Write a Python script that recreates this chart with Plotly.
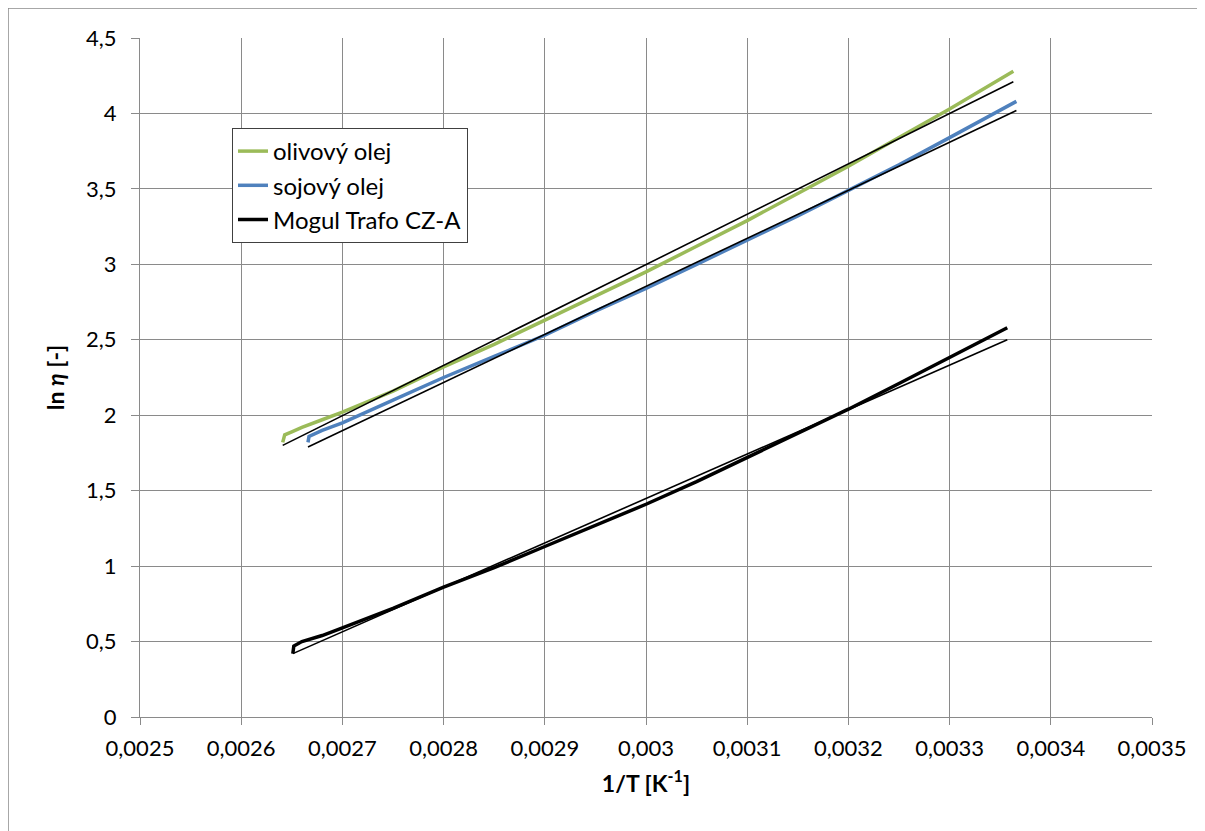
import plotly.graph_objects as go

# olive oil
olive_x = [0.002641, 0.002643, 0.002650, 0.00266, 0.00268, 0.0027, 0.00275, 0.0028, 0.00285,
           0.0029, 0.00295, 0.003, 0.00305, 0.0031, 0.00315, 0.0032, 0.00325, 0.0033, 0.003363]
olive_y = [1.82, 1.87, 1.89, 1.92, 1.97, 2.02, 2.16, 2.32, 2.47,
           2.63, 2.79, 2.95, 3.12, 3.29, 3.47, 3.65, 3.84, 4.03, 4.28]
olive_fit_x = [0.002641, 0.003363]
olive_fit_y = [1.80, 4.21]

# soybean oil
soy_x = [0.002666, 0.002667, 0.00268, 0.0027, 0.00275, 0.0028, 0.00285, 0.0029, 0.00295,
         0.003, 0.00305, 0.0031, 0.00315, 0.0032, 0.00325, 0.0033, 0.003366]
soy_y = [1.82, 1.86, 1.90, 1.95, 2.10, 2.25, 2.39, 2.53, 2.69,
         2.84, 3.00, 3.16, 3.32, 3.49, 3.66, 3.84, 4.08]
soy_fit_x = [0.002666, 0.003366]
soy_fit_y = [1.79, 4.02]

# Mogul Trafo CZ-A
mogul_x = [0.002651, 0.002652, 0.00266, 0.00268, 0.0027, 0.00275, 0.0028, 0.00285, 0.0029,
           0.00295, 0.003, 0.00305, 0.0031, 0.00315, 0.0032, 0.00325, 0.0033, 0.003357]
mogul_y = [0.42, 0.47, 0.50, 0.54, 0.59, 0.72, 0.86, 0.99, 1.13,
           1.27, 1.41, 1.56, 1.72, 1.88, 2.04, 2.21, 2.38, 2.58]
mogul_fit_x = [0.002651, 0.003357]
mogul_fit_y = [0.42, 2.50]

x_tickvals = [0.0025, 0.0026, 0.0027, 0.0028, 0.0029, 0.003, 0.0031, 0.0032, 0.0033, 0.0034, 0.0035]
x_ticktext = ["0,0025", "0,0026", "0,0027", "0,0028", "0,0029", "0,003", "0,0031", "0,0032",
              "0,0033", "0,0034", "0,0035"]
y_tickvals = [0, 0.5, 1, 1.5, 2, 2.5, 3, 3.5, 4, 4.5]
y_ticktext = ["0", "0,5", "1", "1,5", "2", "2,5", "3", "3,5", "4", "4,5"]

FONT = "Lato"
GRID = "#8a8a8a"

L, T, PW, PH = 132, 30, 1012, 679
W, H = 1205, 831

fig = go.Figure()
fig.add_trace(go.Scatter(x=olive_x, y=olive_y, mode="lines", name="olivový olej",
                         line=dict(color="#9BBB59", width=3.5)))
fig.add_trace(go.Scatter(x=soy_x, y=soy_y, mode="lines", name="sojový olej",
                         line=dict(color="#4F81BD", width=3.5)))
fig.add_trace(go.Scatter(x=mogul_x, y=mogul_y, mode="lines", name="Mogul Trafo CZ-A",
                         line=dict(color="#000000", width=3.5)))
for fx, fy in [(olive_fit_x, olive_fit_y), (soy_fit_x, soy_fit_y), (mogul_fit_x, mogul_fit_y)]:
    fig.add_trace(go.Scatter(x=fx, y=fy, mode="lines", showlegend=False,
                             line=dict(color="#000000", width=1.6)))

bx0 = -L / PW
by1 = 1 + T / PH

fig.update_layout(
    width=W, height=H,
    margin=dict(l=L, r=W - L - PW, t=T, b=H - T - PH),
    paper_bgcolor="white", plot_bgcolor="white",
    font=dict(family=FONT, size=22, color="black"),
    showlegend=True,
    legend=dict(x=(232 - 140) / PW, y=(717 - 128) / PH, xanchor="left", yanchor="top",
                bgcolor="white", bordercolor="#404040", borderwidth=1,
                entrywidth=215, entrywidthmode="pixels",
                font=dict(family=FONT, size=24), tracegroupgap=0),
    xaxis=dict(range=[0.0025, 0.0035], tickvals=x_tickvals, ticktext=x_ticktext,
               showgrid=True, gridcolor=GRID, gridwidth=1.3,
               showline=True, linecolor=GRID, linewidth=1.3,
               ticks="outside", ticklen=7, tickcolor=GRID, zeroline=False,
               tickfont=dict(size=22), ticklabelstandoff=4,
               title=dict(text="<b>1/T [K<sup>-1</sup>]</b>", font=dict(size=23), standoff=16)),
    yaxis=dict(range=[0, 4.5], tickvals=y_tickvals, ticktext=y_ticktext,
               showgrid=True, gridcolor=GRID, gridwidth=1.3,
               showline=True, linecolor=GRID, linewidth=1.3,
               ticks="outside", ticklen=8, tickcolor=GRID, zeroline=False,
               tickfont=dict(size=22), ticklabelstandoff=10,
               title=dict(text="<b>ln <i>η</i> [-]</b>", font=dict(size=23), standoff=14)),
    shapes=[
        dict(type="line", xref="paper", yref="paper", x0=bx0, x1=bx0, y0=-1.0, y1=by1,
             line=dict(color=GRID, width=1.5), layer="below"),
        dict(type="line", xref="paper", yref="paper", x0=bx0, x1=2.0, y0=by1, y1=by1,
             line=dict(color=GRID, width=1.5), layer="below"),
    ],
)

fig.write_html("out.html")
